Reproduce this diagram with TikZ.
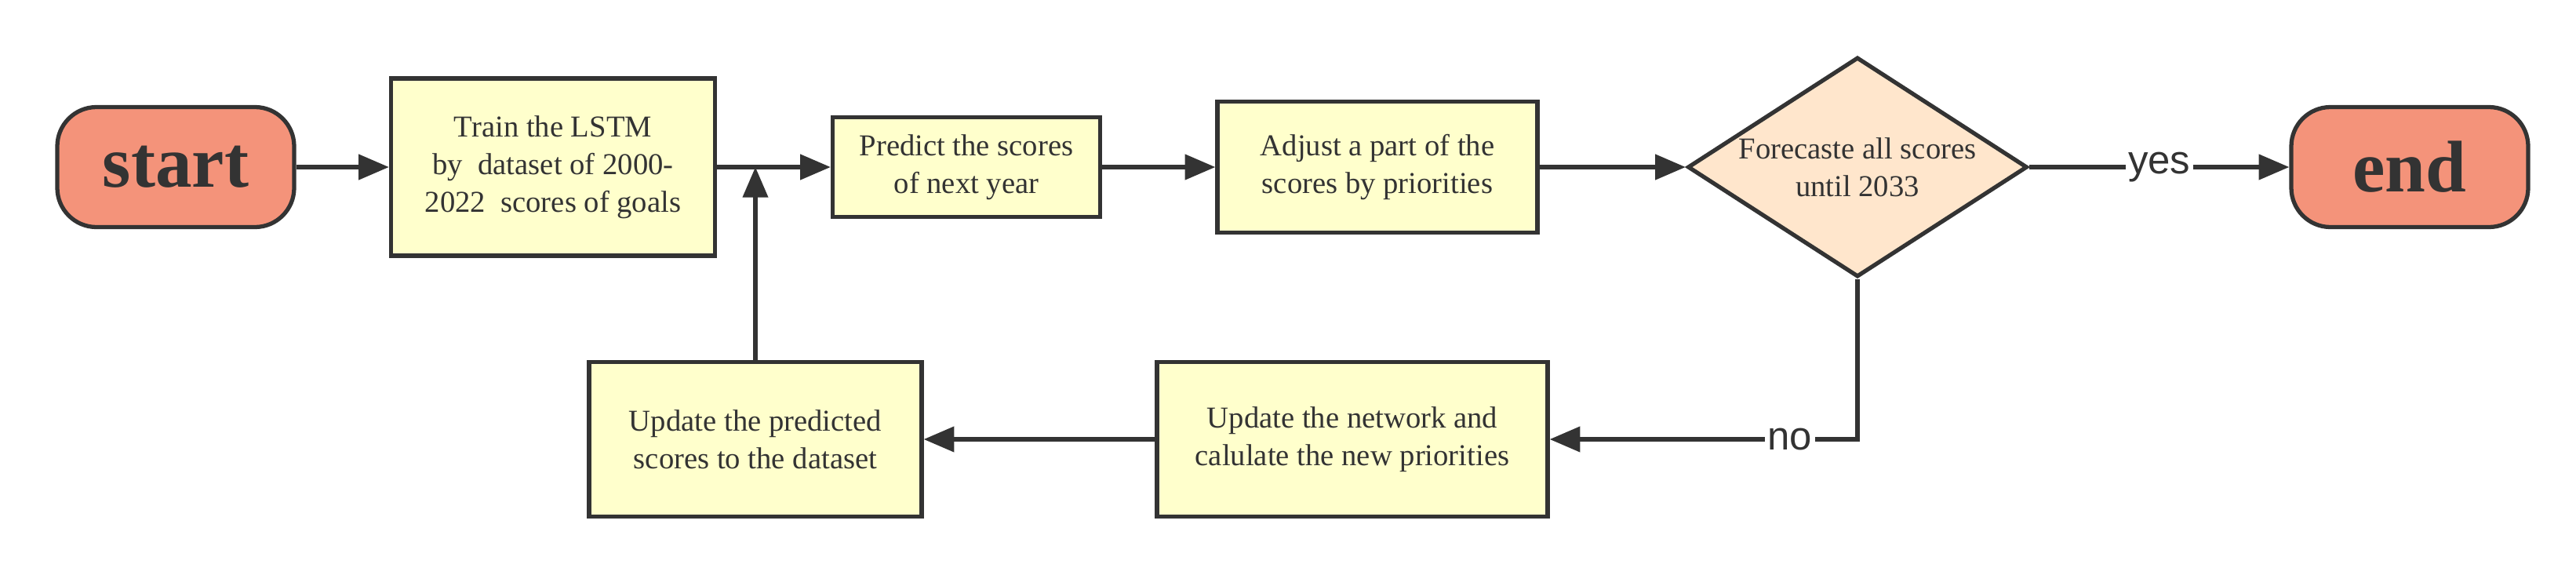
\documentclass[tikz,border=0pt]{standalone}
\usepackage{fontspec}
\setmainfont{Liberation Serif}
\setsansfont{Liberation Sans}
\usepackage{xcolor}
\usepackage{tikz}
\usetikzlibrary{shapes.geometric, arrows.meta, positioning, calc}

\definecolor{termfill}{HTML}{F4937A}
\definecolor{procfill}{HTML}{FFFFCC}
\definecolor{decfill}{HTML}{FFE6CC}
\definecolor{linegray}{HTML}{333333}

\begin{document}
\begin{tikzpicture}[
    term/.style={draw=linegray, line width=1.5pt, fill=termfill, rounded corners=0.5cm, minimum width=3.02cm, minimum height=1.53cm, font=\fontsize{26.5}{30}\selectfont\bfseries, text=linegray},
    proc/.style={draw=linegray, line width=1.5pt, fill=procfill, align=center, font=\fontsize{11}{13.7}\selectfont, text=linegray},
    decide/.style={diamond, draw=linegray, line width=1.5pt, fill=decfill, aspect=1.55, inner sep=0pt, minimum width=4.33cm, minimum height=2.8cm, align=center, font=\fontsize{11}{13.7}\selectfont, text=linegray},
    arrow/.style={-{Triangle[length=11pt, width=9pt]}, line width=1.5pt, draw=linegray},
    lbl/.style={fill=white, inner sep=1pt, font=\sffamily\fontsize{14.5}{16}\selectfont, text=linegray}
  ]
  \useasboundingbox (0,0) rectangle (32.84,7.32);

  % --- TOP ROW ---
  \node[term] (start) at (2.24,5.19) {start};
  \node[proc, minimum width=4.13cm, minimum height=2.26cm] (train) at (7.05,5.19) {Train the LSTM\\by\ \ dataset of 2000-\\2022\ \ scores of goals};
  \node[proc, minimum width=3.41cm, minimum height=1.27cm] (predict) at (12.32,5.19) {Predict the scores\\of next year};
  \node[proc, minimum width=4.08cm, minimum height=1.67cm] (adjust) at (17.56,5.19) {Adjust a part of the\\scores by priorities};
  \node[decide] (check) at (23.68,5.19) {Forecaste all scores\\until 2033};
  \node[term] (end) at (30.72,5.19) {end};

  % --- BOTTOM ROW ---
  \node[proc, minimum width=4.24cm, minimum height=1.97cm] (update) at (9.63,1.72) {Update the predicted\\scores to the dataset};
  \node[proc, minimum width=4.98cm, minimum height=1.97cm] (network) at (17.24,1.72) {Update the network and\\calulate the new priorities};

  % --- CONNECTORS ---
  \draw[arrow] (start) -- (train);
  \draw[arrow] (train) -- (predict);
  \draw[arrow] (predict) -- (adjust);
  \draw[arrow] (adjust) -- (check);
  \draw[arrow] (check) -- node[lbl] {yes} (end);
  \draw[arrow] (check.south) |- node[lbl, pos=0.61] {no} (network.east);
  \draw[arrow] (network) -- (update);
  \draw[arrow] (update.north) -- (update.north |- train.east);
\end{tikzpicture}
\end{document}
